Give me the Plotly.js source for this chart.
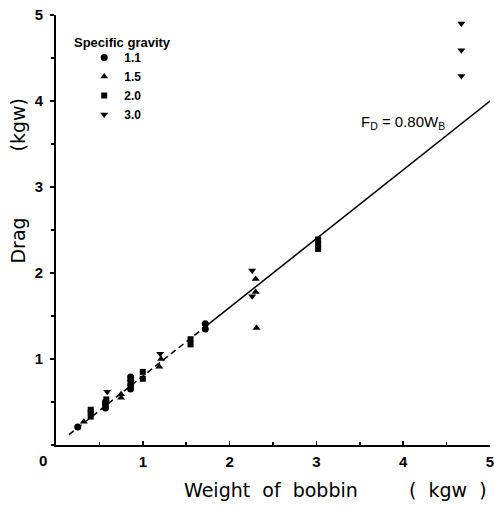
<!DOCTYPE html>
<html>
<head>
<meta charset="utf-8">
<script src="https://cdn.plot.ly/plotly-3.0.1.min.js"></script>
<style>html,body{margin:0;padding:0;background:#fff;}#chart{width:494px;height:507px;}</style>
</head>
<body>
<div id="chart"></div>
<script>
// Specific gravity groups
const sg11W = [0.25, 0.57, 0.57, 0.57, 0.86, 0.86, 0.86, 0.86, 1.72, 1.72];
const sg11F = [0.21, 0.43, 0.47, 0.50, 0.65, 0.70, 0.75, 0.79, 1.35, 1.41];

const sg15W = [0.32, 0.75, 0.75, 1.19, 1.21, 2.30, 2.30, 2.31];
const sg15F = [0.27, 0.55, 0.59, 0.91, 1.00, 1.93, 1.78, 1.36];

const sg20W = [0.40, 0.40, 0.40, 0.58, 1.00, 1.00, 1.55, 1.55, 3.02, 3.02, 3.02];
const sg20F = [0.33, 0.38, 0.41, 0.53, 0.77, 0.85, 1.17, 1.23, 2.28, 2.33, 2.39];

const sg30W = [0.59, 1.20, 2.26, 2.26, 4.67, 4.67, 4.67];
const sg30F = [0.62, 1.06, 2.03, 1.73, 4.90, 4.59, 4.29];

// Fitted line F_D = 0.80 W_B
const slope = 0.80;
const dashW = [0.15, 1.75];
const solidW = [1.75, 5.0];

const legendNames = ['1.1', '1.5', '2.0', '3.0'];
const tickVals = [1, 2, 3, 4, 5];
const tickText = ['1', '2', '3', '4', '5'];

const mk = (sym, size) => ({symbol: sym, size: size, color: '#000'});

const traces = [
  {x: dashW, y: dashW.map(w => slope * w), mode: 'lines', line: {color: '#000', width: 1.5, dash: '6px,4px'}, showlegend: false, hoverinfo: 'skip'},
  {x: solidW, y: solidW.map(w => slope * w), mode: 'lines', line: {color: '#000', width: 1.5}, showlegend: false, hoverinfo: 'skip'},
  {x: sg11W, y: sg11F, mode: 'markers', name: legendNames[0], marker: mk('circle', 7)},
  {x: sg15W, y: sg15F, mode: 'markers', name: legendNames[1], marker: mk('triangle-up', 7)},
  {x: sg20W, y: sg20F, mode: 'markers', name: legendNames[2], marker: mk('square', 6)},
  {x: sg30W, y: sg30F, mode: 'markers', name: legendNames[3], marker: mk('triangle-down', 7)}
];

const tickFont = {family: 'Liberation Sans, Arial, sans-serif', size: 15, color: '#000', weight: 'bold'};
const titleFont = {family: 'DejaVu Sans, sans-serif', size: 19, color: '#000'};

const layout = {
  width: 494, height: 507,
  margin: {l: 56, r: 4, t: 15, b: 62},
  paper_bgcolor: '#fff', plot_bgcolor: '#fff',
  showlegend: true,
  legend: {x: 0.065, y: 0.935, xanchor: 'left', yanchor: 'top', bgcolor: 'rgba(0,0,0,0)',
    font: {family: 'Liberation Sans, Arial, sans-serif', size: 12, color: '#000', weight: 'bold'},
    itemwidth: 30, tracegroupgap: 0},
  xaxis: {range: [0, 5], showgrid: false, zeroline: false, showline: true, linecolor: '#000', linewidth: 2,
    tickvals: tickVals, ticktext: tickText, ticks: 'inside', ticklen: 4, tickcolor: '#000', tickwidth: 1.5,
    minor: {dtick: 0.5, tick0: 0, ticks: 'inside', ticklen: 3, tickcolor: '#000'},
    tickfont: tickFont, ticklabelstandoff: 2, ticklabeloverflow: 'allow'},
  yaxis: {range: [0, 5], showgrid: false, zeroline: false, showline: true, linecolor: '#000', linewidth: 2,
    tickvals: tickVals, ticktext: tickText, ticks: 'outside', ticklen: 4, tickcolor: '#000', tickwidth: 1.5,
    minor: {dtick: 0.5, tick0: 0, ticks: 'outside', ticklen: 3, tickcolor: '#000'},
    tickfont: tickFont, ticklabelstandoff: 4, ticklabeloverflow: 'allow'},
  annotations: [
    {xref: 'paper', yref: 'paper', x: -0.03, y: -0.037, xanchor: 'center', yanchor: 'middle', text: '0', showarrow: false, font: tickFont},
    {xref: 'paper', yref: 'paper', x: 0.29, y: -0.105, xanchor: 'left', yanchor: 'middle', text: 'Weight&nbsp; of&nbsp; bobbin', showarrow: false, font: titleFont},
    {xref: 'paper', yref: 'paper', x: 0.997, y: -0.105, xanchor: 'right', yanchor: 'middle', text: '(&nbsp; kgw&nbsp; )', showarrow: false, font: titleFont},
    {xref: 'paper', yref: 'paper', x: -0.088, y: 0.475, xanchor: 'center', yanchor: 'middle', text: 'Drag', textangle: -90, showarrow: false, font: titleFont},
    {xref: 'paper', yref: 'paper', x: -0.088, y: 0.745, xanchor: 'center', yanchor: 'middle', text: '(kgw)', textangle: -90, showarrow: false, font: titleFont},
    {xref: 'paper', yref: 'paper', x: 0.037, y: 0.935, xanchor: 'left', yanchor: 'middle', text: 'Specific gravity', showarrow: false,
      font: {family: 'Liberation Sans, Arial, sans-serif', size: 13, color: '#000', weight: 'bold'}},
    {xref: 'paper', yref: 'paper', x: 0.80, y: 0.75, xanchor: 'center', yanchor: 'middle',
      text: 'F<sub>D</sub> = 0.80W<sub>B</sub>', showarrow: false, font: {family: 'Liberation Sans, Arial, sans-serif', size: 15, color: '#000'}}
  ]
};

Plotly.newPlot('chart', traces, layout, {displayModeBar: false, staticPlot: true});
</script>
</body>
</html>
